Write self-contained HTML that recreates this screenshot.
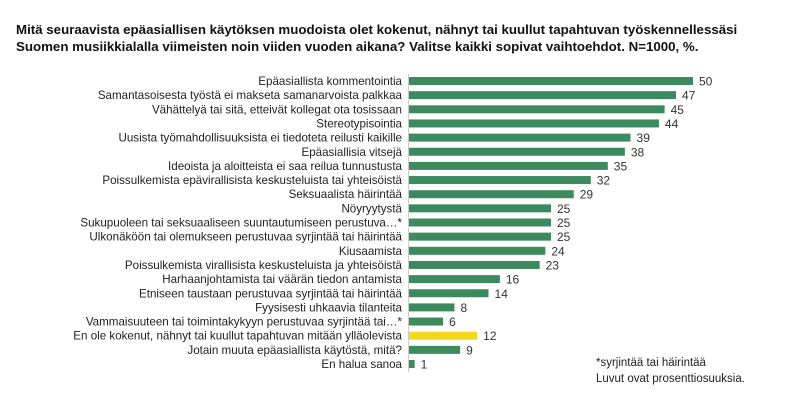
<!DOCTYPE html>
<html><head><meta charset="utf-8"><style>
body{margin:0;background:#fff;width:800px;height:400px;overflow:hidden}
svg{font-family:"Liberation Sans",sans-serif}
</style></head><body>
<svg width="800" height="400" xmlns="http://www.w3.org/2000/svg">
<text x="16" y="34" font-size="13.3" font-weight="bold" fill="#111">Mitä seuraavista epäasiallisen käytöksen muodoista olet kokenut, nähnyt tai kuullut tapahtuvan työskennellessäsi</text>
<text x="16" y="51" font-size="13.3" font-weight="bold" fill="#111">Suomen musiikkialalla viimeisten noin viiden vuoden aikana? Valitse kaikki sopivat vaihtoehdot. N=1000, %.</text>
<line x1="408.5" y1="74" x2="408.5" y2="372" stroke="#ccc" stroke-width="1"/>
<g id="rows" font-size="11.6" fill="#222"></g>
<text x="596" y="366" font-size="11.5" fill="#222">*syrjintää tai häirintää</text>
<text x="596" y="382" font-size="11.5" fill="#222">Luvut ovat prosenttiosuuksia.</text>
</svg>
<script>
var d=[["Epäasiallista kommentointia",50],["Samantasoisesta työstä ei makseta samanarvoista palkkaa",47],["Vähättelyä tai sitä, etteivät kollegat ota tosissaan",45],["Stereotypisointia",44],["Uusista työmahdollisuuksista ei tiedoteta reilusti kaikille",39],["Epäasiallisia vitsejä",38],["Ideoista ja aloitteista ei saa reilua tunnustusta",35],["Poissulkemista epävirallisista keskusteluista tai yhteisöistä",32],["Seksuaalista häirintää",29],["Nöyryytystä",25],["Sukupuoleen tai seksuaaliseen suuntautumiseen perustuva…*",25],["Ulkonäköön tai olemukseen perustuvaa syrjintää tai häirintää",25],["Kiusaamista",24],["Poissulkemista virallisista keskusteluista ja yhteisöistä",23],["Harhaanjohtamista tai väärän tiedon antamista",16],["Etniseen taustaan perustuvaa syrjintää tai häirintää",14],["Fyysisesti uhkaavia tilanteita",8],["Vammaisuuteen tai toimintakykyyn perustuvaa syrjintää tai…*",6],["En ole kokenut, nähnyt tai kuullut tapahtuvan mitään ylläolevista",12],["Jotain muuta epäasiallista käytöstä, mitä?",9],["En halua sanoa",1]];
var g=document.getElementById("rows"),s="";
d.forEach(function(r,i){var y=81+i*14.15,w=r[1]*5.68,c=i==18?"#f2d81f":"#3d8a5e";
s+='<text x="402" y="'+(y+4)+'" text-anchor="end">'+r[0]+'</text>';
s+='<rect x="409" y="'+(y-4)+'" width="'+w+'" height="8" fill="'+c+'"/>';
s+='<text x="'+(409+w+6)+'" y="'+(y+4.5)+'" font-size="12" fill="#333">'+r[1]+'</text>';});
g.innerHTML=s;
</script>
</body></html>
